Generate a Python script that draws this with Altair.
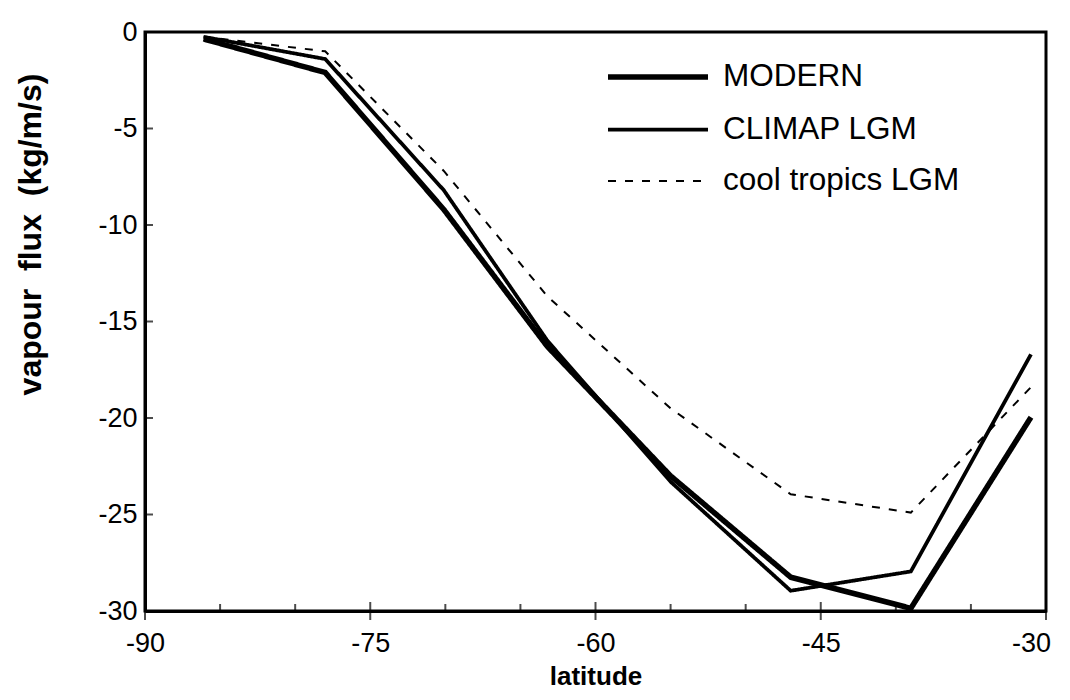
import altair as alt
import pandas as pd

latitude = [-86.1, -78.0, -70.1, -63.2, -55.0, -47.0, -39.0, -31.0]
modern = [-0.36, -2.1, -9.2, -16.3, -23.0, -28.25, -29.86, -19.96]
climap = [-0.25, -1.4, -8.2, -16.0, -23.3, -28.95, -27.95, -16.7]
cool = [-0.25, -1.0, -7.2, -13.7, -19.5, -23.95, -24.9, -18.4]
series_names = ["MODERN", "CLIMAP LGM", "cool tropics LGM"]

x_major = [-90, -75, -60, -45, -30]
x_minor = [-85, -80, -70, -65, -55, -50, -40, -35]
y_ticks = [0, -5, -10, -15, -20, -25, -30]

rows = []
for name, vals in zip(series_names, [modern, climap, cool]):
    for lat, v in zip(latitude, vals):
        rows.append({"latitude": lat, "flux": v, "series": name})
df = pd.DataFrame(rows)

FONT = "Liberation Sans"
xscale = alt.Scale(domain=[-90, -30], nice=False, zero=False)
yscale = alt.Scale(domain=[-30, 0], nice=False, zero=False)

legend = alt.Legend(
    orient="none", legendX=485, legendY=17, title=None,
    symbolType="M-2,0H2", symbolSize=2500, symbolStrokeColor="black",
    symbolFillColor="transparent",
    labelFontSize=31.5, labelFont=FONT, labelColor="black", labelOffset=37,
    labelLimit=0, rowPadding=9.5, padding=0,
)

lines = alt.Chart(df).mark_line(color="black", strokeJoin="miter").encode(
    x=alt.X("latitude:Q", scale=xscale,
            axis=alt.Axis(values=x_major, title="latitude", labelPadding=19,
                          labelFlush=False, labelExpr="'' + datum.value",
                          labelOffset={"condition": {"test": "datum.value == -30", "value": -15}, "value": 0},
                          titleFontSize=26, titleBaseline="alphabetic", titleY=73)),
    y=alt.Y("flux:Q", scale=yscale,
            axis=alt.Axis(values=y_ticks, title="vapour\u00a0\u00a0flux\u00a0\u00a0(kg/m/s)",
                          labelPadding=8, labelExpr="'' + datum.value",
                          titleFontSize=32, titleAngle=-90, titleAlign="center",
                          titleBaseline="middle", titleX=-115, titleY=202)),
    strokeDash=alt.StrokeDash("series:N", sort=series_names,
                              scale=alt.Scale(domain=series_names, range=[[1, 0], [1, 0], [8, 9]]),
                              legend=legend),
    strokeWidth=alt.StrokeWidth("series:N", sort=series_names,
                                scale=alt.Scale(domain=series_names, range=[5.5, 2, 2.8]),
                                legend=legend),
    detail="series:N",
)

xmaj = alt.Chart(pd.DataFrame({"latitude": x_major})).mark_tick(
    orient="vertical", size=18, thickness=2, color="black").encode(
    x=alt.X("latitude:Q", scale=xscale), y=alt.datum(-30))
xmin = alt.Chart(pd.DataFrame({"latitude": x_minor})).mark_tick(
    orient="vertical", size=7, thickness=2, color="black", yOffset=-3.5).encode(
    x=alt.X("latitude:Q", scale=xscale), y=alt.datum(-30))
ytk = alt.Chart(pd.DataFrame({"flux": y_ticks})).mark_tick(
    orient="horizontal", size=8, thickness=2, color="black", xOffset=4).encode(
    y=alt.Y("flux:Q", scale=yscale), x=alt.datum(-90))

chart = alt.layer(lines, xmaj, xmin, ytk).properties(
    width=901, height=579,
    autosize=alt.AutoSizeParams(type="none"),
    padding={"left": 137, "top": 24, "right": 16, "bottom": 81},
    background="white",
).configure(font=FONT).configure_axis(
    domainColor="black", domainWidth=3, ticks=False, grid=False,
    labelFont=FONT, labelFontSize=27, labelColor="black",
    titleFont=FONT, titleFontWeight="bold", titleColor="black",
).configure_view(stroke="black", strokeWidth=3)

chart.save("out.html", embed_options={"renderer": "svg", "actions": False})
